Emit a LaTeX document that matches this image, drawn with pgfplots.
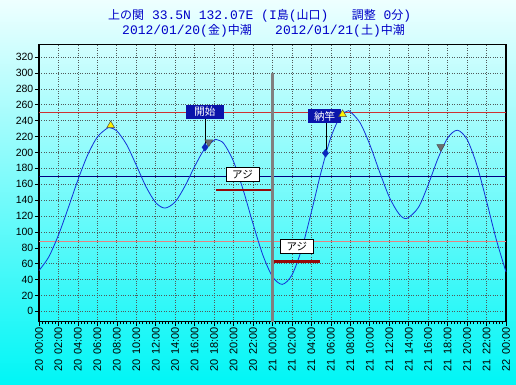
\documentclass[border=0pt]{standalone}
\usepackage{pgfplots}
\pgfplotsset{compat=1.18}
\usepackage{fontspec}
\setmainfont{Liberation Sans}
\newfontfamily\jp{Noto Sans CJK JP}
\newfontfamily\tmono{Liberation Mono}
\newcommand\J[1]{{\jp\fontsize{12}{14}\selectfont #1}}
\newcommand\T[2]{\mbox{#1\hspace{5pt}#2}}
\definecolor{bgtop}{RGB}{238,255,255}
\definecolor{bgbot}{RGB}{0,246,246}
\definecolor{tidecol}{RGB}{20,50,215}
\definecolor{titlecol}{RGB}{0,0,200}
\definecolor{redline}{RGB}{205,50,50}
\definecolor{pinkline}{RGB}{230,130,130}
\definecolor{navyline}{RGB}{0,0,130}
\definecolor{barcol}{RGB}{150,10,10}
\definecolor{boxblue}{RGB}{10,20,170}
\definecolor{diam}{RGB}{10,40,190}
\definecolor{gtri}{RGB}{110,110,110}
\definecolor{gridcol}{RGB}{80,90,90}
\begin{document}
\begin{tikzpicture}[x=1pt,y=1pt]
\shade[top color=bgtop, bottom color=bgbot] (0,0) rectangle (516,384);
\node[anchor=west, inner sep=0pt, font=\tmono\fontsize{13}{15}\selectfont, text=titlecol] at (108,368) {\J{上の関} 33.5N 132.07E (I\J{島}(\J{山口})\ \ \ \J{調整} 0\J{分})};
\node[anchor=west, inner sep=0pt, font=\tmono\fontsize{13}{15}\selectfont, text=titlecol] at (122,353) {2012/01/20(\J{金})\J{中潮}\ \ \ 2012/01/21(\J{土})\J{中潮}};
\begin{axis}[
  at={(39pt,62.3pt)}, anchor=south west, scale only axis,
  width=467pt, height=277.3pt,
  xmin=0, xmax=48, ymin=-13, ymax=336,
  axis line style={black, line width=1.3pt},
  /pgf/number format/assume math mode=true,
  tick label style={font=\fontsize{10.5}{12}\selectfont},
  xtick={0,2,...,48},
  xticklabels={\T{20}{00:00},\T{20}{02:00},\T{20}{04:00},\T{20}{06:00},\T{20}{08:00},\T{20}{10:00},\T{20}{12:00},\T{20}{14:00},\T{20}{16:00},\T{20}{18:00},\T{20}{20:00},\T{20}{22:00},\T{21}{00:00},\T{21}{02:00},\T{21}{04:00},\T{21}{06:00},\T{21}{08:00},\T{21}{10:00},\T{21}{12:00},\T{21}{14:00},\T{21}{16:00},\T{21}{18:00},\T{21}{20:00},\T{21}{22:00},\T{22}{00:00}},
  xticklabel style={rotate=90, anchor=east, inner sep=1pt, font=\fontsize{11}{12}\selectfont},
  minor x tick num=5,
  ytick={0,20,...,320},
  yticklabel style={inner sep=1.5pt},
  tick align=outside, xtick pos=bottom, ytick pos=left,
  major tick length=4pt, minor tick length=2.5pt,
  tick style={black, line width=0.6pt},
  grid=major,
  major grid style={gridcol, dotted, line width=0.7pt},
  clip=false,
]
% horizontal reference lines
\addplot[redline, line width=1pt] coordinates {(0,250) (48,250)};
\addplot[navyline, line width=1pt] coordinates {(0,170) (48,170)};
\addplot[pinkline, line width=1pt] coordinates {(0,88) (48,88)};
% tide curve
\addplot[tidecol, line width=0.8pt, smooth] coordinates {
(0,51.4) (1,68.5) (2,96.1) (3,130) (4,165.4) (5,196.8) (6,219.5) (7,230.4) (7.3,231)
(8,227.2) (9,210) (10,184) (11,156.9) (12,136.9) (12.95,130)
(14,137.9) (15,157.6) (16,182.4) (17,204.1) (18,215.3) (18.3,216)
(19,211.1) (20,188.5) (21,152.3) (22,110.2) (23,71.1) (24,43.8) (25,34)
(26,45.8) (27,78.5) (28,125.2) (29,175.7) (30,219.1) (31,246.2) (31.7,252)
(32,251.2) (33,237.4) (34,209.9) (35,175.8) (36,144) (37,122.7) (37.8,117)
(39,130.9) (40,159.3) (41,192.2) (42,218.2) (43,228)
(44,216.3) (45,184.2) (46,138.7) (47,90.5) (48,49.6)};
% catch bars
\addplot[barcol, line width=2.6pt] coordinates {(18.15,152.8) (23.95,152.8)};
\addplot[barcol, line width=2.6pt] coordinates {(23.95,62.5) (28.9,62.5)};
% date separator
\addplot[gray, line width=2.6pt] coordinates {(24,300) (24,-13)};
% connector lines
\addplot[black, line width=0.7pt] coordinates {(17.06,243) (17.06,206.5)};
\addplot[black, line width=0.7pt] coordinates {(29.5,238) (29.5,199)};
% markers
\addplot[only marks, mark=diamond*, mark size=4pt, color=diam] coordinates {(17.06,206.5) (29.45,199)};
\addplot[only marks, mark=triangle*, mark size=4.5pt, draw=black!70, fill=yellow, mark options={line width=0.5pt}] coordinates {(7.37,234) (31.2,248)};
\addplot[only marks, mark=triangle*, mark size=4.5pt, draw=black!70, fill=gtri, mark options={rotate=180, line width=0.5pt}] coordinates {(17.45,213) (41.3,207)};
% labels
\node[fill=boxblue, text=white, font=\jp\fontsize{10.5}{12}\selectfont, minimum width=38pt, minimum height=14pt, inner sep=1pt] at (axis cs:17.06,251) {開始};
\node[fill=boxblue, text=white, font=\jp\fontsize{10.5}{12}\selectfont, minimum width=33pt, minimum height=14pt, inner sep=1pt] at (axis cs:29.35,245.5) {納竿};
\node[fill=white, draw=black, line width=0.8pt, text=black, font=\jp\fontsize{10.5}{12}\selectfont, minimum width=33pt, minimum height=14pt, inner sep=1pt] at (axis cs:20.92,172.5) {アジ};
\node[fill=white, draw=black, line width=0.8pt, text=black, font=\jp\fontsize{10.5}{12}\selectfont, minimum width=33pt, minimum height=14pt, inner sep=1pt] at (axis cs:26.5,82) {アジ};
\end{axis}
\pgfresetboundingbox
\path (0,0) rectangle (516,384);
\end{tikzpicture}
\end{document}
